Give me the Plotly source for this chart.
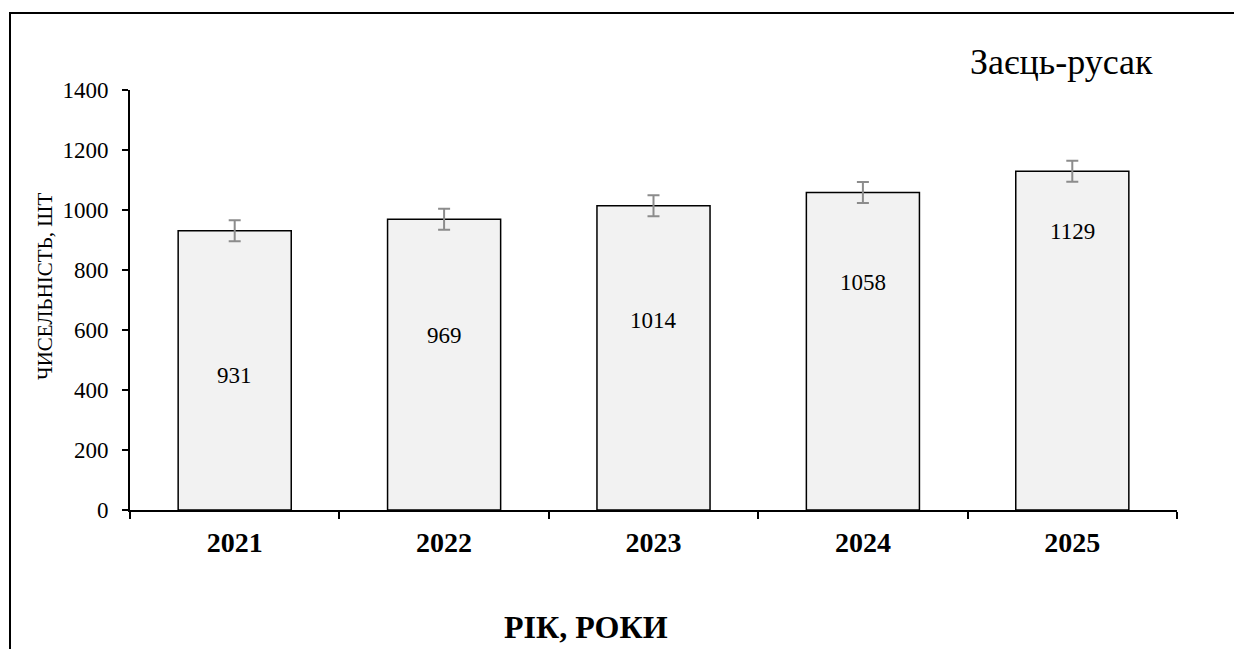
import plotly.graph_objects as go

years = ["2021", "2022", "2023", "2024", "2025"]
values = [931, 969, 1014, 1058, 1129]
errors = [35, 35, 35, 35, 35]
label_y = [447, 583, 633, 757, 927]

OFF = 8  # page body margin
W, H = 1242 - OFF, 649 - OFF
L, R, T, B = 130 - OFF, 65, 90 - OFF, 139
pw = W - L - R
ph = H - T - B
SERIF = "Times New Roman, Liberation Serif, serif"


def px(xp):
    return (xp - OFF - L) / pw


def py(yp):
    return (T + ph - (yp - OFF)) / ph


fig = go.Figure()
fig.add_trace(go.Bar(
    x=years, y=values,
    marker=dict(color="#f2f2f2", line=dict(color="black", width=1.5)),
    error_y=dict(type="data", array=errors, visible=True, color="#8c8c8c", thickness=2, width=6),
    width=0.54,
    hoverinfo="x+y",
))

for i, (v, ly) in enumerate(zip(values, label_y)):
    fig.add_annotation(x=i, y=ly, text=str(v), showarrow=False,
                       font=dict(family=SERIF, size=23, color="black"))

fig.add_annotation(xref="paper", yref="paper", x=px(1155), y=py(62),
                   text="Заєць-русак", showarrow=False, xanchor="right", yanchor="middle",
                   font=dict(family=SERIF, size=36, color="black"))

fig.add_annotation(xref="paper", yref="paper", x=px(586), y=py(627),
                   text="<b>РІК, РОКИ</b>", showarrow=False, xanchor="center", yanchor="middle",
                   font=dict(family=SERIF, size=32, color="black"))

fig.add_annotation(xref="paper", yref="paper", x=px(45), y=py(287),
                   text="ЧИСЕЛЬНІСТЬ, ШТ", showarrow=False, textangle=-90,
                   xanchor="center", yanchor="middle",
                   font=dict(family=SERIF, size=21, color="black"))

# frame (cropped on right and bottom)
fig.add_shape(type="rect", xref="paper", yref="paper",
              x0=px(10), x1=px(1262), y0=py(680), y1=py(13),
              line=dict(color="black", width=2))

fig.update_layout(
    width=W, height=H,
    margin=dict(l=L, r=R, t=T, b=B, autoexpand=False),
    paper_bgcolor="white", plot_bgcolor="white",
    showlegend=False,
    font=dict(family=SERIF, color="black"),
    xaxis=dict(
        type="category", range=[-0.5, 4.5],
        showline=True, linecolor="black", linewidth=2,
        ticks="outside", tickson="boundaries", ticklen=7, tickwidth=2, tickcolor="black",
        tickfont=dict(family=SERIF, size=28, color="black", weight="bold"),
        tickangle=0, ticklabelstandoff=6,
        showgrid=False, zeroline=False, automargin=False,
    ),
    yaxis=dict(
        range=[0, 1400], dtick=200,
        showline=True, linecolor="black", linewidth=2,
        ticks="outside", ticklen=6, tickwidth=2, tickcolor="black",
        tickfont=dict(family=SERIF, size=23, color="black"),
        ticklabelstandoff=9,
        showgrid=False, zeroline=False, automargin=False,
    ),
)

fig.write_html("out.html")
